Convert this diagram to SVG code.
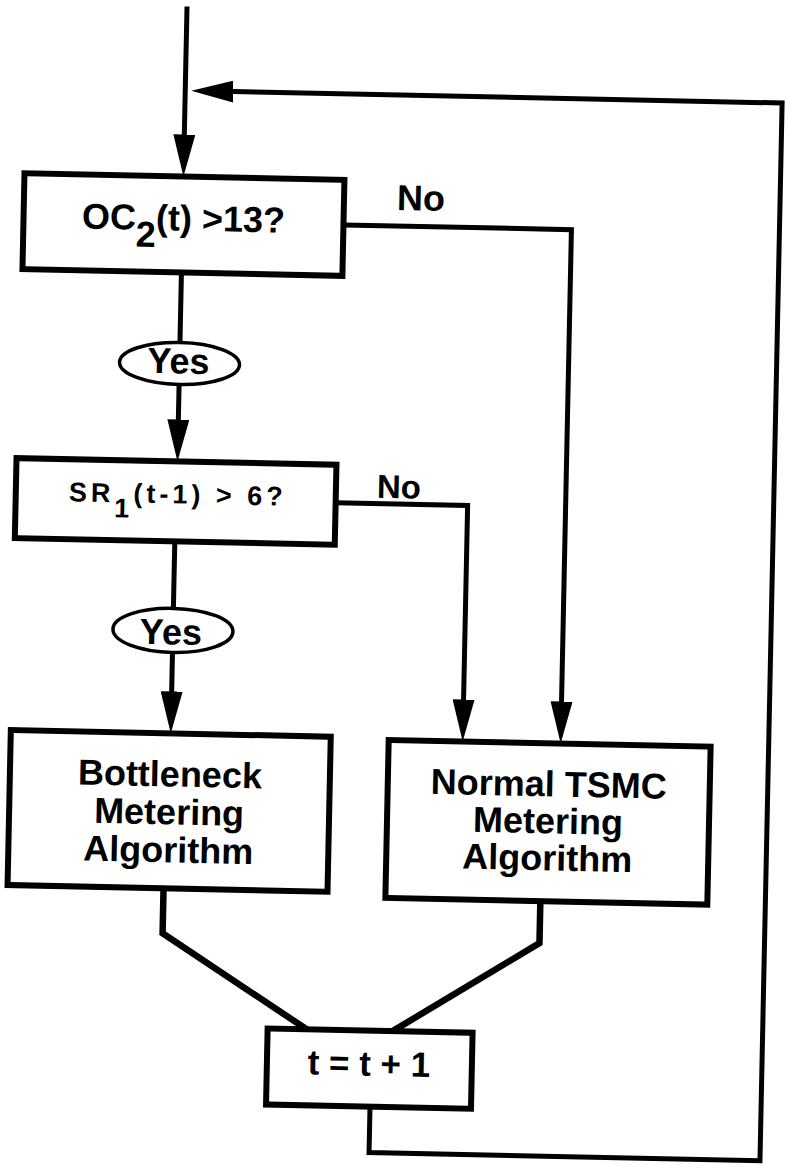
<svg xmlns="http://www.w3.org/2000/svg" width="787" height="1165" viewBox="0 0 787 1165">
<style>
.box{fill:#fff;stroke:#000;stroke-width:6}
.oval{fill:#fff;stroke:#000;stroke-width:3.5}
.ln{fill:none;stroke:#000;stroke-width:5}
.thick{stroke-width:6.5}
text{font-family:"Liberation Sans",Arial,sans-serif;font-weight:bold;fill:#000}
.big{font-size:36px;text-anchor:middle}
</style>
<defs>
<marker id="arr" markerUnits="userSpaceOnUse" viewBox="0 0 42 22" markerWidth="42" markerHeight="22" refX="22" refY="11" orient="auto">
<path d="M0,0 L42,11 L0,22 Z" fill="#000"/>
</marker>
</defs>
<rect width="787" height="1165" fill="#fff"/>
<g transform="rotate(1.2 393 582)">
<g id="connectors">
<path class="ln" d="M175,11 V161" marker-end="url(#arr)"/>
<path class="ln" d="M381,1107 V1153 H772 V95 H201" marker-end="url(#arr)"/>
<path class="ln" d="M175,277 V347"/>
<path class="ln" d="M175,389 V446" marker-end="url(#arr)"/>
<path class="ln" d="M336,226 H564 V720" marker-end="url(#arr)"/>
<path class="ln" d="M174,546 V614"/>
<path class="ln" d="M174,657 V718" marker-end="url(#arr)"/>
<path class="ln" d="M334,504 H466 V720" marker-end="url(#arr)"/>
<path class="ln thick" d="M170,893 V938 L316,1031"/>
<path class="ln thick" d="M547,898 V940 L402,1031"/>
<text x="389" y="210" font-size="36">No</text>
<text x="375" y="498" font-size="33">No</text>
</g>
<g id="cond1">
<rect class="box" x="16" y="181" width="320" height="96"/>
<text class="big" x="176" y="235" font-size="37">OC<tspan dy="17">2</tspan><tspan dy="-17">(t) &gt;13?</tspan></text>
</g>
<g id="yes1">
<ellipse class="oval" cx="175" cy="368" rx="60" ry="21"/>
<text x="174" y="378" font-size="36" text-anchor="middle">Yes</text>
</g>
<g id="cond2">
<rect class="box" x="14" y="466" width="320" height="80"/>
<text x="176" y="508" font-size="27" letter-spacing="4" text-anchor="middle">SR<tspan dy="15">1</tspan><tspan dy="-15">(t-1) &gt; 6?</tspan></text>
</g>
<g id="yes2">
<ellipse class="oval" cx="174" cy="635" rx="60" ry="22"/>
<text x="172" y="649" font-size="36" text-anchor="middle">Yes</text>
</g>
<g id="bottleneck">
<rect class="box" x="14" y="738" width="320" height="155"/>
<text class="big" x="174" y="791">Bottleneck</text>
<text class="big" x="174" y="829">Metering</text>
<text class="big" x="174" y="867">Algorithm</text>
</g>
<g id="normal">
<rect class="box" x="392" y="740" width="322" height="158"/>
<text class="big" x="553" y="793">Normal TSMC</text>
<text class="big" x="553" y="830">Metering</text>
<text class="big" x="553" y="867">Algorithm</text>
</g>
<g id="increment">
<rect class="box" x="277" y="1031" width="205" height="76"/>
<text x="379" y="1076" font-size="35" text-anchor="middle">t = t + 1</text>
</g>
</g>
</svg>
